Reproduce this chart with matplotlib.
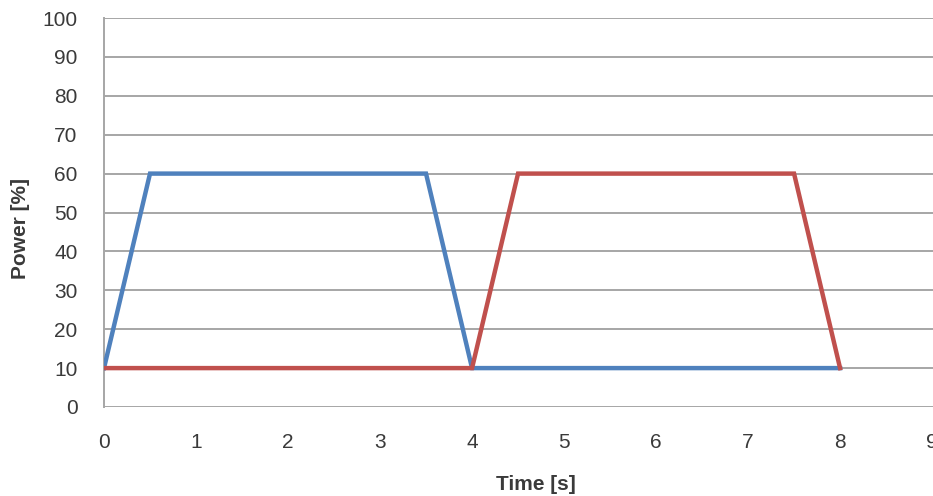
import matplotlib
matplotlib.use("Agg")
import matplotlib.pyplot as plt

# data
blue_t = [0, 0.5, 3.5, 4, 8]
blue_p = [10, 60, 60, 10, 10]
red_t = [0, 4, 4.5, 7.5, 8]
red_p = [10, 10, 60, 60, 10]
y_ticks = list(range(0, 101, 10))
x_ticks = list(range(0, 10))

plt.rcParams["font.family"] = ["Liberation Sans", "DejaVu Sans"]
text_col = "#3a3a3a"

fig = plt.figure(figsize=(9.33, 4.96), dpi=100)
ax = fig.add_axes([104 / 933, 1 - 407 / 496, 1 - 104 / 933, (407 - 18) / 496])

ax.plot(blue_t, blue_p, color="#4f81bd", lw=3.2, solid_joinstyle="miter", zorder=3)
ax.plot(red_t, red_p, color="#c0504d", lw=3.2, solid_joinstyle="miter", zorder=4)

ax.set_xlim(0, 9.01)
ax.set_ylim(0, 100)
ax.set_yticks(y_ticks)
ax.set_xticks(x_ticks)
ax.yaxis.grid(True, color="#a6a6a6", lw=1.4)
ax.set_axisbelow(True)
ax.tick_params(length=0, labelsize=15, colors=text_col)
ax.tick_params(axis="y", pad=19)
ax.tick_params(axis="x", pad=19)
for s in ["top", "right", "bottom"]:
    ax.spines[s].set_visible(False)
ax.spines["left"].set_color("#a6a6a6")
ax.spines["left"].set_linewidth(1.4)

ax.set_ylabel("Power [%]", fontsize=15, fontweight="bold", color=text_col)
ax.yaxis.set_label_coords(-0.089, 0.46)
ax.set_xlabel("Time [s]", fontsize=15, fontweight="bold", color=text_col)
ax.xaxis.set_label_coords(0.521, -0.175)

fig.savefig("out.png", dpi=100)
